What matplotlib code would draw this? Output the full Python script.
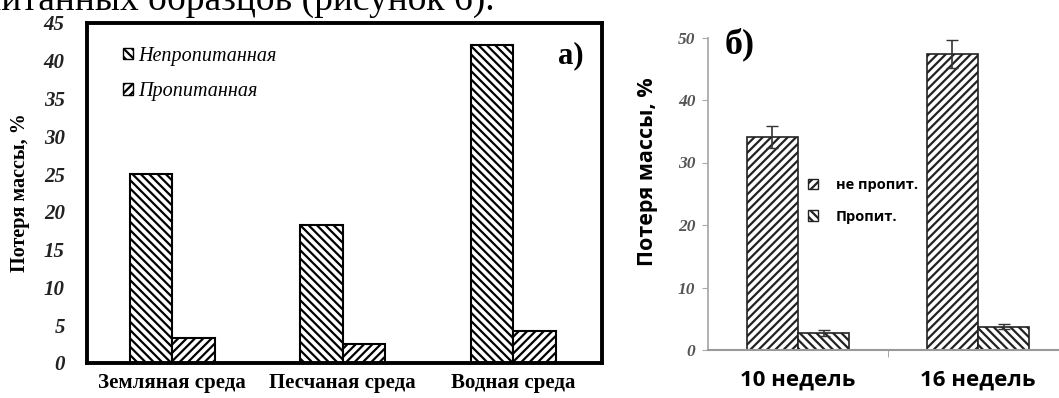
import numpy as np
import matplotlib
matplotlib.use("Agg")
import matplotlib.pyplot as plt
from matplotlib.patches import Patch

plt.rcParams['hatch.linewidth'] = 1.6

# --- данные, панель а) ---
sredy = ["Земляная среда", "Песчаная среда", "Водная среда"]
neprop_a = [25.0, 18.3, 42.1]
prop_a = [3.3, 2.5, 4.3]
yticks_a = [0, 5, 10, 15, 20, 25, 30, 35, 40, 45]

# --- данные, панель б) ---
nedeli = ["10 недель", "16 недель"]
neprop_b = [34.1, 47.4]
neprop_b_err = [1.8, 2.2]
prop_b = [2.7, 3.7]
prop_b_err = [0.5, 0.4]
yticks_b = [0, 10, 20, 30, 40, 50]

fig = plt.figure(figsize=(10.59, 3.98), dpi=100)

# обрезанная строка текста сверху
fig.text(495/1059, 1 - 10/398, "пропитанных образцов (рисунок 6).", ha='right',
         va='baseline', family='Liberation Serif', fontsize=27)

#---панель а)-------------------------------------------------------------
ax1 = fig.add_axes([87/1059, 1 - 363/398, (602-87)/1059, (363-23)/398])
x = np.arange(len(sredy))
w = 0.25
ax1.bar(x - w/2, neprop_a, w, color='white', edgecolor='black', hatch='\\\\\\\\', lw=1.5)
ax1.bar(x + w/2, prop_a, w, color='white', edgecolor='black', hatch='////', lw=1.5)
ax1.set_xlim(-0.5, 2.52)
ax1.set_ylim(0, 45)
ax1.set_yticks(yticks_a)
ax1.set_yticklabels([str(v) for v in yticks_a], family='Liberation Serif',
                    fontweight='bold', style='italic', fontsize=15, color='#222')
ax1.set_xticks(x)
ax1.set_xticklabels(sredy, family='Liberation Serif', fontweight='bold', fontsize=15)
ax1.tick_params(axis='x', length=0, pad=7)
ax1.tick_params(axis='y', length=0, pad=16)
for s in ax1.spines.values():
    s.set_linewidth(2.8)
ax1.set_ylabel("Потеря массы, %", family='Liberation Serif', fontweight='bold',
               fontsize=14.5, labelpad=10)
ax1.text(0.965, 0.945, "a)", transform=ax1.transAxes, ha='right', va='top',
         family='Liberation Serif', fontweight='bold', fontsize=22)
h1 = [Patch(facecolor='white', edgecolor='black', hatch='\\\\\\\\', label='Непропитанная'),
      Patch(facecolor='white', edgecolor='black', hatch='////', label='Пропитанная')]
ax1.legend(handles=h1, loc='upper left', bbox_to_anchor=(0.07, 0.93), frameon=False,
           borderpad=0, borderaxespad=0,
           prop={'family': 'Liberation Serif', 'style': 'italic', 'size': 14.5},
           handlelength=0.5, handleheight=0.5, handletextpad=0.25, labelspacing=0.8)

#---панель б)-------------------------------------------------------------
ax2 = fig.add_axes([708/1059, 1 - 350/398, (1059-708)/1059, (350-37.5)/398])
xb = np.arange(len(nedeli))
wb = 0.285
ax2.bar(xb - wb/2, neprop_b, wb, yerr=neprop_b_err, color='white', edgecolor='#222',
        hatch='////', lw=1.2, error_kw={'ecolor': '#333', 'elinewidth': 1.2, 'capsize': 4})
ax2.bar(xb + wb/2, prop_b, wb, yerr=prop_b_err, color='white', edgecolor='#222',
        hatch='\\\\\\\\', lw=1.2, error_kw={'ecolor': '#333', 'elinewidth': 1.2, 'capsize': 4})
ax2.set_xlim(-0.5, 1.45)
ax2.set_ylim(0, 50)
ax2.spines['top'].set_visible(False)
ax2.spines['right'].set_visible(False)
ax2.spines['left'].set_color('#aaa')
ax2.spines['bottom'].set_color('#999')
ax2.spines['left'].set_linewidth(1.3)
ax2.spines['bottom'].set_linewidth(1.5)
ax2.set_yticks(yticks_b)
ax2.set_yticklabels([str(v) for v in yticks_b], family='Liberation Serif',
                    fontweight='bold', style='italic', fontsize=12.5, color='#555')
ax2.tick_params(axis='y', length=4, color='#aaa', pad=5)
ax2.set_xticks(xb)
ax2.set_xticklabels(nedeli, family='Open Sans', fontweight='bold', fontsize=16)
ax2.tick_params(axis='x', length=0, pad=14)
ax2.set_xticks([0.5], minor=True)
ax2.tick_params(axis='x', which='minor', length=5, color='#999', direction='out')
ax2.set_ylabel("Потеря массы, %", family='Open Sans', fontweight='bold', fontsize=15.5)
ax2.yaxis.set_label_coords(-0.142, 0.57)
ax2.text(0.048, 1.03, "б)", transform=ax2.transAxes, ha='left', va='top',
         family='Liberation Serif', fontweight='bold', fontsize=26)
h2 = [Patch(facecolor='white', edgecolor='#222', hatch='////', label='не пропит.'),
      Patch(facecolor='white', edgecolor='#222', hatch='\\\\\\\\', label='Пропит.')]
ax2.legend(handles=h2, loc='upper left', bbox_to_anchor=(0.285, 0.55), frameon=False,
           borderpad=0, borderaxespad=0,
           prop={'family': 'Open Sans', 'weight': 'bold', 'size': 10.5},
           handlelength=0.7, handleheight=0.7, handletextpad=1.2, labelspacing=1.2)

fig.savefig("out.png", dpi=100)
